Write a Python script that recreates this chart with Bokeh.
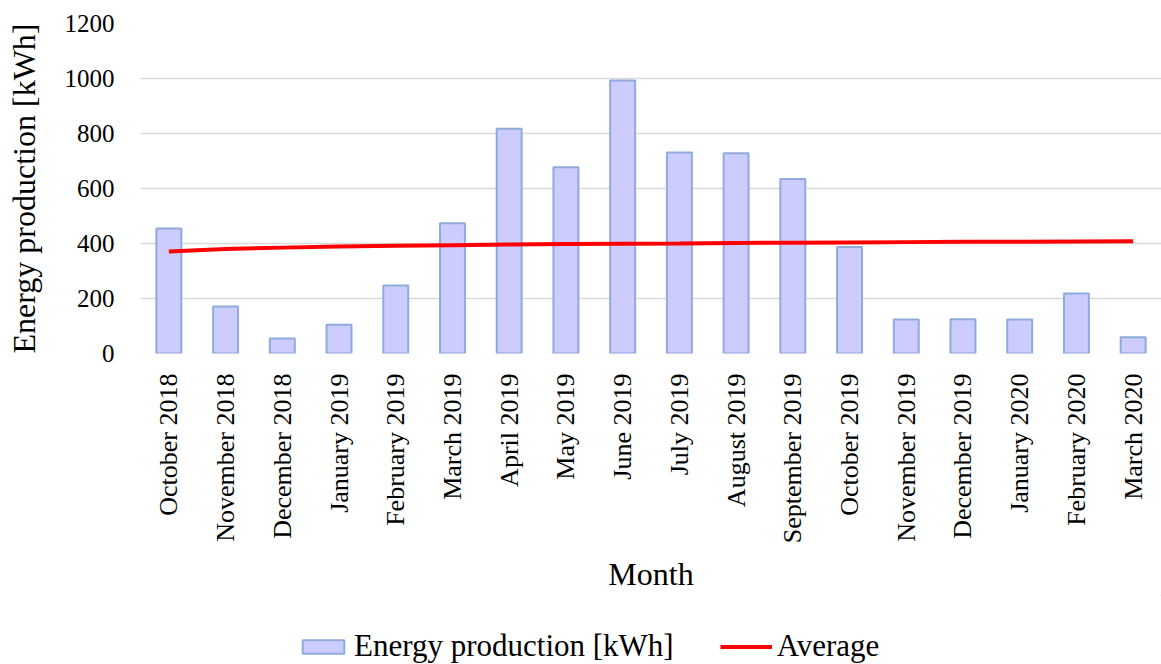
import math
from bokeh.plotting import figure
from bokeh.layouts import column
from bokeh.models import Range1d, Legend, LegendItem, ColumnDataSource, SingleIntervalTicker
from bokeh.embed import file_html
from bokeh.resources import INLINE

months = ["October 2018", "November 2018", "December 2018", "January 2019",
          "February 2019", "March 2019", "April 2019", "May 2019", "June 2019",
          "July 2019", "August 2019", "September 2019", "October 2019",
          "November 2019", "December 2019", "January 2020", "February 2020",
          "March 2020"]
energy_kwh = [455, 171, 55, 105, 247, 474, 817, 677, 993, 731, 728, 635,
              387, 124, 125, 124, 218, 59]
average_kwh = [371, 380, 385, 389, 392, 394, 396, 398, 399, 400, 402, 403,
               404, 405, 406, 406, 407, 408]

FONT = "Liberation Serif"
BAR_FILL = "#ccccff"
BAR_LINE = "#8faadc"
AVG_COLOR = "#ff0000"

src = ColumnDataSource(dict(month=months, energy=energy_kwh, avg=average_kwh))

p = figure(x_range=months, y_range=Range1d(0, 1200),
           width=1161, height=595,
           output_backend="svg", toolbar_location=None,
           min_border_left=140, min_border_right=0, min_border_top=23,
           min_border_bottom=0)
p.outline_line_color = None

p.vbar(x="month", top="energy", width=0.44, source=src,
       fill_color=BAR_FILL, line_color=BAR_LINE, line_width=2)
p.line(x="month", y="avg", source=src, line_color=AVG_COLOR, line_width=4)

p.xgrid.grid_line_color = None
p.ygrid.grid_line_color = "#d9d9d9"
p.ygrid.grid_line_width = 1.5
p.yaxis.ticker = SingleIntervalTicker(interval=200)

for ax in (p.xaxis, p.yaxis):
    ax.axis_line_color = None
    ax.major_tick_line_color = None
    ax.minor_tick_line_color = None
    ax.major_label_text_font = FONT
    ax.major_label_text_color = "black"
    ax.axis_label_text_font = FONT
    ax.axis_label_text_font_size = "32px"
    ax.axis_label_text_font_style = "normal"
    ax.axis_label_text_color = "black"

p.yaxis.major_label_text_font_size = "25px"
p.xaxis.major_label_text_font_size = "26px"
p.yaxis.axis_label = "Energy production [kWh]"
p.yaxis.major_label_standoff = 20
p.yaxis.axis_label_standoff = 20
p.xaxis.axis_label = "Month"
p.xaxis.major_label_orientation = math.pi / 2
p.xaxis.major_label_standoff = 14
p.xaxis.axis_label_standoff = 10

# legend strip underneath the chart; its swatch glyphs sit outside the visible range
leg = figure(width=1161, height=69, x_range=Range1d(0, 1), y_range=Range1d(0, 1),
             x_axis_type=None, y_axis_type=None, output_backend="svg",
             toolbar_location=None, min_border=0)
leg.outline_line_color = None
leg.grid.grid_line_color = None
swatch_bar = leg.vbar(x=[5], top=[5], bottom=[4], width=0.5,
                      fill_color=BAR_FILL, line_color=BAR_LINE, line_width=2)
swatch_line = leg.line(x=[5, 6], y=[5, 5], line_color=AVG_COLOR, line_width=4)

legend = Legend(items=[LegendItem(label="Energy production [kWh]", renderers=[swatch_bar]),
                       LegendItem(label="Average", renderers=[swatch_line])],
                orientation="horizontal", location=(157, 0),
                label_text_font=FONT, label_text_font_size="31px",
                label_text_color="black", glyph_width=52, glyph_height=17,
                label_standoff=5, spacing=46, border_line_color=None,
                background_fill_alpha=0, margin=0, padding=0)
leg.add_layout(legend, "center")

layout = column(p, leg, spacing=0)
open("out.html", "w").write(file_html(layout, INLINE))
